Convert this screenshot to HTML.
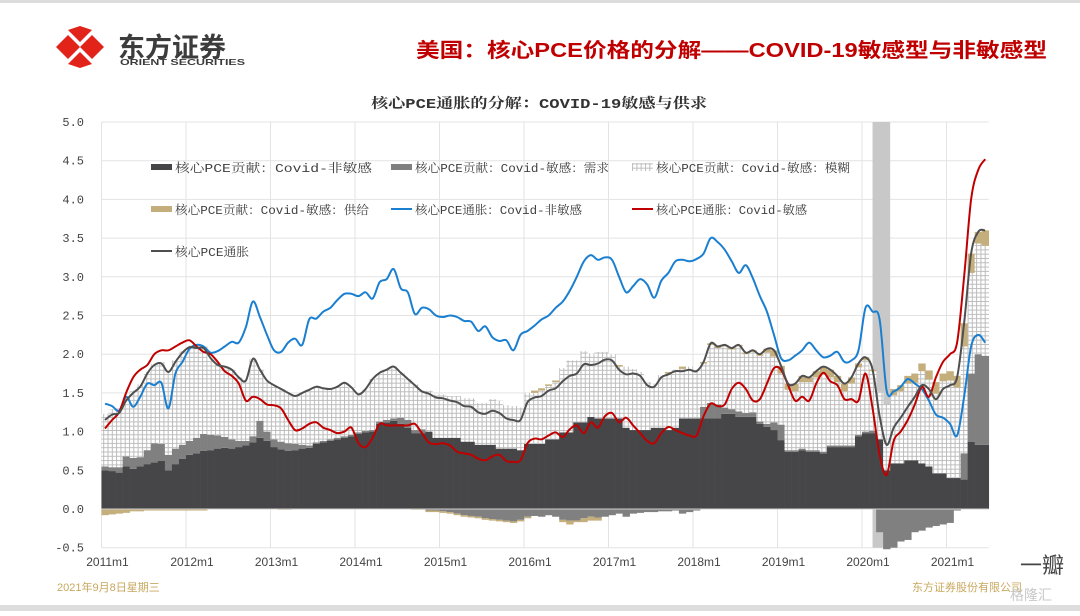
<!DOCTYPE html>
<html><head><meta charset="utf-8"><style>
html,body{margin:0;padding:0;background:#fff;}
body{width:1080px;height:611px;overflow:hidden;position:relative;font-family:"Liberation Sans","Noto Sans CJK SC",sans-serif;}
</style></head><body>
<svg id="chart" width="1080" height="611" viewBox="0 0 1080 611" xmlns="http://www.w3.org/2000/svg">
<defs>
<pattern id="hatch" patternUnits="userSpaceOnUse" width="4.3" height="4.3">
<rect width="4.3" height="4.3" fill="#ffffff"/>
<path d="M0 0.5H4.3M0.5 0V4.3" stroke="#bcbcbc" stroke-width="1"/>
</pattern>
</defs>
<rect x="0" y="0" width="1080" height="611" fill="#ffffff"/>
<rect x="0" y="0" width="1080" height="3" fill="#dcdcdc"/>
<rect x="0" y="605" width="1080" height="6" fill="#dedede"/>
<g>
<path d="M56 47 L68 35 L80 47 L68 59Z M80 47 L92 35 L104 47 L92 59Z" fill="#e2231a"/>
<path d="M68 30 L80 42 L92 30 L80 26Z M68 64 L80 52 L92 64 L80 68Z" fill="#e2231a"/>
<text x="118" y="57" font-size="27" font-weight="bold" fill="#3c3c3c" font-family="'Noto Sans CJK SC',sans-serif">东方证券</text>
<text x="120" y="65" font-size="8.5" font-weight="bold" fill="#3c3c3c" textLength="125" lengthAdjust="spacingAndGlyphs">ORIENT SECURITIES</text>
</g>
<text x="416" y="57" font-size="20" font-weight="bold" fill="#c00000" font-family="'Liberation Sans','Noto Sans CJK SC',sans-serif" textLength="631" lengthAdjust="spacingAndGlyphs">美国：核心PCE价格的分解——COVID-19敏感型与非敏感型</text>
<text x="371" y="108" font-size="14" font-weight="bold" fill="#333" font-family="'Liberation Mono','Noto Serif CJK SC',serif" textLength="336" lengthAdjust="spacingAndGlyphs">核心PCE通胀的分解：COVID-19敏感与供求</text>
<g id="grid"></g>
<g id="bars"></g>
<g id="lines"></g>
<g id="axes"></g>
<g id="legend"></g>
<text x="57" y="591" font-size="11" fill="#c8a85e">2021年9月8日星期三</text>
<text x="912" y="591" font-size="11" fill="#c8a85e">东方证券股份有限公司</text>
<text x="1020" y="573" font-size="22" fill="#444" font-family="'Noto Sans CJK SC',sans-serif">一瓣</text>
<text x="1010" y="600" font-size="14" fill="#c8c8c8" font-family="'Noto Sans CJK SC',sans-serif">格隆汇</text>
</svg>
<script>
const months = 126;
const yearLabels = ["2011m1","2012m1","2013m1","2014m1","2015m1","2016m1","2017m1","2018m1","2019m1","2020m1","2021m1"];
const yTicks = [5.0,4.5,4.0,3.5,3.0,2.5,2.0,1.5,1.0,0.5,0.0,-0.5];
const nonSensitive = [.50,.49,.47,.55,.52,.55,.58,.60,.62,.50,.58,.65,.70,.72,.75,.76,.78,.79,.78,.80,.82,.86,.92,.88,.80,.77,.75,.76,.78,.79,.84,.86,.88,.90,.92,.94,.97,.99,1.00,1.10,1.12,1.14,1.10,1.05,.98,.98,1.00,.92,.92,.92,.92,.87,.87,.83,.83,.83,.78,.78,.78,.76,.84,.84,.84,.90,.90,.99,.99,1.12,1.12,1.19,1.17,1.17,1.17,1.17,1.05,1.02,1.02,1.02,1.05,1.05,1.02,1.05,1.17,1.17,1.17,1.17,1.17,1.17,1.23,1.23,1.19,1.19,1.19,1.10,1.06,1.02,.89,.74,.74,.76,.74,.74,.72,.80,.80,.80,.80,.94,.98,.98,.90,.50,.59,.59,.63,.63,.59,.55,.46,.46,.40,.40,.38,.87,.83,.83];
const demand = [.05,.05,.07,.13,.14,.12,.18,.25,.22,.20,.20,.18,.18,.20,.22,.20,.17,.14,.12,.08,.06,.08,.22,.12,.10,.10,.10,.08,.05,.03,.02,.02,.02,.02,.02,.02,.02,.02,.02,.03,.03,.03,.08,.10,.04,.05,-.02,-.02,-.03,-.04,-.06,-.08,-.09,-.10,-.12,-.13,-.14,-.15,-.16,-.14,-.10,-.09,-.10,-.08,-.10,-.14,-.15,-.15,-.12,-.10,-.11,-.10,-.08,-.06,-.10,-.06,-.05,-.04,-.04,-.03,-.03,-.02,-.06,-.04,-.02,.15,.20,.18,.08,.06,.07,.05,.06,.03,.04,.10,.20,.02,.02,.02,.02,.02,.02,.02,.02,.02,.02,.02,.02,.03,-.30,-.52,-.50,-.42,-.40,-.30,-.28,-.24,-.22,-.20,-.18,-.02,.34,.88,1.17,1.15];
const fuzzy = [.68,.75,.76,.77,.87,.94,1.01,1.03,1.06,1.09,1.14,1.21,1.23,1.18,1.13,.99,.91,.91,.90,.82,.78,1.00,.66,.66,.70,.68,.65,.62,.67,.72,.72,.68,.65,.66,.69,.61,.49,.54,.66,.63,.65,.67,.58,.53,.59,.50,.53,.56,.56,.54,.54,.56,.56,.54,.54,.59,.62,.56,.55,.55,.66,.66,.69,.69,.74,.83,.93,.80,.92,.82,.86,.86,.83,.67,.79,.79,.75,.62,.57,.68,.73,.75,.64,.67,.63,.56,.75,.73,.79,.77,.84,.76,.78,.85,.92,.85,.66,.78,.76,.86,.88,.94,1.00,.88,.82,.70,.80,.87,.92,.77,.60,.85,.88,.93,.99,1.00,1.19,1.12,1.03,1.19,1.26,1.17,1.38,1.30,1.43,1.42];
const supply = [-.08,-.07,-.06,-.05,-.03,-.03,-.02,-.02,-.02,-.02,-.02,-.02,-.02,-.02,-.02,0,0,0,0,0,0,0,0,0,0,-.01,-.01,0,0,0,0,0,0,0,0,0,0,0,0,0,0,0,0,0,-.01,-.01,-.02,-.02,-.02,-.02,-.02,-.02,-.02,-.02,-.02,-.02,-.02,-.02,-.02,-.02,-.02,.03,.03,.02,.02,-.03,-.05,-.02,-.05,-.05,-.04,0,0,.02,0,0,0,0,0,0,.02,0,.03,0,0,.02,.02,.02,.02,.02,.02,.02,.02,.02,.05,.08,.10,.08,.10,.08,.06,.08,.10,.10,.08,.10,.08,.05,.04,.02,0,0,.08,.08,.10,.12,.10,.12,.15,.10,.12,.15,.30,.25,.15,.20];
const inflNonSens = [1.36,1.33,1.27,1.45,1.32,1.45,1.62,1.60,1.63,1.30,1.75,1.90,2.07,2.12,2.10,2.02,2.04,2.10,2.16,2.15,2.35,2.68,2.48,2.25,2.05,2.03,2.15,2.20,2.12,2.45,2.46,2.55,2.60,2.70,2.78,2.78,2.75,2.80,2.72,2.93,2.97,3.10,2.85,2.80,2.52,2.60,2.58,2.50,2.48,2.50,2.48,2.43,2.42,2.30,2.36,2.22,2.17,2.18,2.05,2.25,2.30,2.37,2.45,2.50,2.60,2.68,2.82,3.00,3.20,3.28,3.22,3.25,3.22,3.00,2.80,2.88,2.97,2.90,2.73,2.95,3.05,3.20,3.22,3.20,3.23,3.30,3.50,3.45,3.35,3.20,3.05,3.15,2.98,2.75,2.55,2.25,1.95,1.92,1.98,2.05,2.15,2.05,1.96,1.98,2.03,1.90,1.92,2.05,2.60,2.55,2.45,1.53,1.52,1.58,1.68,1.62,1.55,1.40,1.22,1.18,1.10,0.95,1.45,2.10,2.25,2.15];
const inflSens = [1.04,1.15,1.25,1.50,1.70,1.80,1.86,2.00,2.05,2.05,2.10,2.15,2.18,2.10,2.03,2.00,1.90,1.78,1.72,1.62,1.40,1.45,1.42,1.35,1.34,1.30,1.15,1.02,1.04,1.10,1.12,1.05,1.02,0.98,1.00,1.05,0.85,0.80,0.92,1.10,1.08,1.08,1.08,1.08,1.10,0.98,0.86,0.84,0.85,0.82,0.74,0.72,0.70,0.65,0.63,0.68,0.70,0.62,0.61,0.63,0.85,0.91,0.90,0.95,0.99,0.93,1.03,1.08,0.98,1.12,1.05,1.20,1.24,1.12,1.18,1.08,0.98,0.88,0.85,0.98,1.06,1.02,0.98,0.95,0.95,1.20,1.36,1.33,1.35,1.55,1.63,1.55,1.40,1.42,1.62,1.82,1.80,1.60,1.40,1.45,1.40,1.62,1.76,1.65,1.60,1.42,1.42,1.40,1.75,1.30,0.70,0.44,0.88,1.00,1.15,1.35,1.58,1.45,1.70,1.90,2.00,2.15,3.00,4.00,4.38,4.52];
const corePce = [1.15,1.22,1.24,1.40,1.50,1.58,1.75,1.86,1.88,1.77,1.90,2.02,2.09,2.08,2.08,1.95,1.86,1.84,1.80,1.70,1.66,1.94,1.80,1.66,1.60,1.55,1.50,1.46,1.50,1.54,1.58,1.56,1.55,1.58,1.63,1.57,1.48,1.55,1.68,1.76,1.80,1.84,1.76,1.68,1.60,1.52,1.49,1.44,1.43,1.40,1.38,1.33,1.32,1.25,1.23,1.27,1.24,1.17,1.15,1.15,1.38,1.44,1.46,1.53,1.56,1.65,1.72,1.75,1.87,1.86,1.88,1.93,1.92,1.80,1.74,1.75,1.72,1.60,1.58,1.70,1.74,1.78,1.78,1.80,1.78,1.90,2.14,2.10,2.12,2.08,2.12,2.02,2.05,2.00,2.07,2.05,1.85,1.62,1.62,1.72,1.70,1.78,1.84,1.80,1.72,1.62,1.70,1.88,1.96,1.80,1.20,0.83,1.05,1.18,1.32,1.45,1.60,1.55,1.42,1.55,1.60,1.70,2.40,3.30,3.58,3.60];
const shadeStart = 109.5, shadeEnd = 112;

const NS='http://www.w3.org/2000/svg';
const X0=101.5, MW=84.5/12, Y0=509, YU=77.4;
function xs(i){return X0+MW*i;}
function ys(v){return Y0-v*YU;}
function mk(tag,attrs,parent){const e=document.createElementNS(NS,tag);for(const k in attrs)e.setAttribute(k,attrs[k]);parent.appendChild(e);return e;}
const grid=document.getElementById('grid'),bars=document.getElementById('bars'),lines=document.getElementById('lines'),axes=document.getElementById('axes'),legend=document.getElementById('legend');
const xEnd=xs(months);
yTicks.forEach(v=>{
  const l=mk('line',{x1:X0,x2:xEnd,y1:ys(v),y2:ys(v),stroke:'#e3e3e3','stroke-width':1},grid);
  
  
  const t=mk('text',{x:84,y:ys(v)+4,'text-anchor':'end','font-size':12,fill:'#444','font-family':"'Liberation Mono',monospace"},axes);
  t.textContent=v.toFixed(1);
  
  
});
yearLabels.forEach((s,k)=>{
  const x=xs(k*12);
  const l=mk('line',{x1:x,x2:x,y1:ys(5),y2:ys(-0.5),stroke:'#e3e3e3','stroke-width':1},grid);
  
  
  const t=mk('text',{x:x+6,y:566,'text-anchor':'middle','font-size':12,fill:'#444'},axes);
  t.textContent=s;
  
  
});
const sh=mk('rect',{x:xs(shadeStart),y:ys(5),width:xs(shadeEnd)-xs(shadeStart),height:ys(-0.5)-ys(5),fill:'#c8c8c8'},grid);


function seg(i,a,b,fill,name){
  if(Math.abs(b-a)<1e-6)return;
  const r=mk('rect',{x:xs(i),width:MW+0.3,y:Math.min(ys(a),ys(b)),height:Math.abs(ys(a)-ys(b)),fill:fill},bars);
  
  
}
for(let i=0;i<months;i++){
  let p=0,n=0;
  const parts=[[nonSensitive[i],'#464648','bar-non-sensitive'],[demand[i],'#808080','bar-demand'],[fuzzy[i],'url(#hatch)','bar-fuzzy'],[supply[i],'#c4ae7c','bar-supply']];
  parts.forEach(([v,c,nm])=>{
    if(v>=0){seg(i,p,p+v,c,nm);p+=v;}else{seg(i,n,n+v,c,nm);n+=v;}
  });
}
const zl=mk('line',{x1:X0,x2:xEnd,y1:Y0,y2:Y0,stroke:'#d0d0d0','stroke-width':1},axes);


function smooth(arr){
  const pts=arr.map((v,i)=>[xs(i)+MW/2,ys(v)]);
  let d='M'+pts[0][0].toFixed(1)+' '+pts[0][1].toFixed(1);
  for(let i=0;i<pts.length-1;i++){
    const p0=pts[i-1]||pts[i],p1=pts[i],p2=pts[i+1],p3=pts[i+2]||p2;
    const c1=[p1[0]+(p2[0]-p0[0])/6,p1[1]+(p2[1]-p0[1])/6],c2=[p2[0]-(p3[0]-p1[0])/6,p2[1]-(p3[1]-p1[1])/6];
    d+=' C'+c1[0].toFixed(1)+' '+c1[1].toFixed(1)+' '+c2[0].toFixed(1)+' '+c2[1].toFixed(1)+' '+p2[0].toFixed(1)+' '+p2[1].toFixed(1);
  }
  return d;
}
const lb=mk('path',{d:smooth(inflNonSens),fill:'none',stroke:'#1a7fd0','stroke-width':2},lines);


const lr=mk('path',{d:smooth(inflSens),fill:'none',stroke:'#c00000','stroke-width':2},lines);


const lc=mk('path',{d:smooth(corePce),fill:'none',stroke:'#4f4f4f','stroke-width':2},lines);


const legItems=[
 [151,167,'rect','#464648','核心PCE贡献：Covid-非敏感',197,'legend-non-sensitive'],
 [391,167,'rect','#808080','核心PCE贡献：Covid-敏感：需求',194,'legend-demand'],
 [632,167,'hatch','','核心PCE贡献：Covid-敏感：模糊',194,'legend-fuzzy'],
 [151,209,'rect','#c4ae7c','核心PCE贡献：Covid-敏感：供给',194,'legend-supply'],
 [391,209,'line','#1a7fd0','核心PCE通胀：Covid-非敏感',167,'legend-non-sensitive-inflation'],
 [632,209,'line','#c00000','核心PCE通胀：Covid-敏感',151,'legend-sensitive-inflation'],
 [151,251,'line','#4f4f4f','核心PCE通胀',74,'legend-core-pce']
];
legItems.forEach(([x,y,kind,c,label,w,nm])=>{
  const g=mk('g',{},legend);
  
  
  if(kind==='rect')mk('rect',{x:x,y:y-3,width:21,height:6,fill:c},g);
  else if(kind==='hatch')mk('rect',{x:x,y:y-4,width:21,height:8,fill:'url(#hatch)'},g);
  else mk('line',{x1:x,x2:x+21,y1:y,y2:y,stroke:c,'stroke-width':2},g);
  const t=mk('text',{x:x+24,y:y+5,'font-size':12,fill:'#404040',textLength:w,lengthAdjust:'spacingAndGlyphs','font-family':"'Liberation Mono','Noto Serif CJK SC',serif"},g);
  t.textContent=label;
});
</script>
</body></html>
